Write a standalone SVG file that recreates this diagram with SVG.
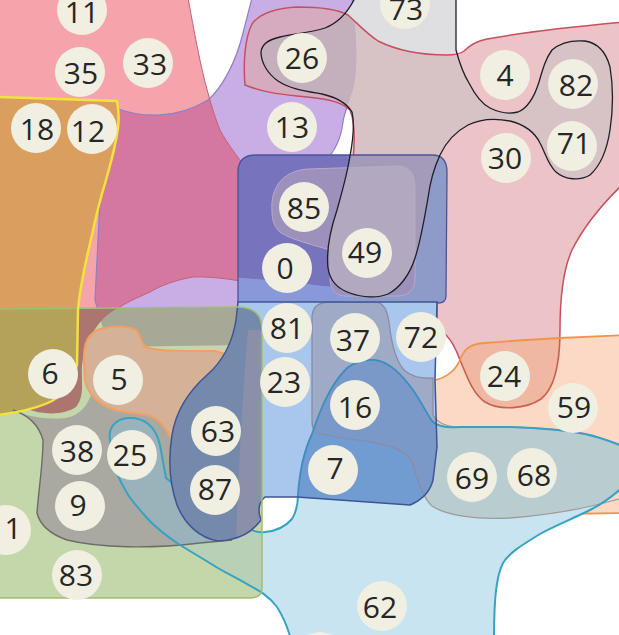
<svg xmlns="http://www.w3.org/2000/svg" width="619" height="635" viewBox="0 0 619 635">
<style>
.n circle{fill:#f0efe2}
.n text{font-family:"Open Sans","DejaVu Sans",sans-serif;font-size:30px;fill:#262626;text-anchor:middle}
</style>
<defs>
<path id="pLv" d="M113,107 C140,118 175,120 208,100 C222,88 236,62 243,33 L252,-2 L352,-2 C356,25 358,55 355,80 C352,98 345,108 343,122 C341,138 336,150 326,160 L330,300 L245,345 L108,347 L95,300 L100,200 Z"/>
<path id="pP" d="M-2,-2 L188,-2 C194,30 200,65 208,93 C212,108 216,120 220,130 C228,145 240,160 255,180 L258,284 C240,281 215,276 193,277 C175,280 160,286 150,292 C132,300 115,308 104,318 C92,330 84,347 82,365 C81,382 85,396 76,407 C63,416 38,416 15,404 L-2,397 Z"/>
<path id="pE" d="M355,-2 L456,-2 L456,50 C460,65 464,75 469,83 C475,95 482,104 490,108 C500,113 510,114 518,112 C528,108 534,98 539,82 C543,68 546,58 552,50 C560,43 572,40 585,41 C598,43 606,52 610,67 C613,85 613,110 610,130 C607,150 600,166 590,175 C580,181 565,180 556,172 C548,165 545,152 540,143 C535,133 526,125 510,121 C495,118 480,119 468,125 C455,132 446,142 440,155 C434,168 430,182 428,198 C424,220 421,240 415,258 C410,274 400,288 388,294 C378,298 363,298 350,293 C338,289 330,282 328,268 C326,250 331,228 337,210 C342,192 347,175 350,156 C353,140 355,125 352,112 C346,102 335,97 322,94 C305,91 290,89 278,81 C268,74 261,63 261,52 C262,44 268,40 280,37 C295,34 312,32 325,28 C338,23 348,12 355,-2 Z"/>
<path id="pD" d="M245,85 C243,62 245,38 252,24 C260,13 276,8 298,7 C320,7 337,9 348,15 C358,24 366,33 378,41 C396,50 420,55 447,55 C455,55 460,54 464,51 C470,45 477,41 487,39 C520,33 570,27 625,22 L625,182 C602,204 584,226 572,250 C562,272 560,300 560,330 C560,362 555,388 541,399 C526,409 500,411 485,402 C472,393 466,374 460,360 C456,349 452,341 446,335 L437,325 L437,303 L352,303 L353,160 C355,140 355,122 350,110 C340,100 320,98 297,96 C278,94 262,92 245,85 Z"/>
<path id="pOR" d="M430,381 C445,379 455,371 460,360 C464,350 468,344 485,343 C510,341 540,339 560,338 L625,335 L625,513 L560,514 L470,508 L430,495 Z"/>
<path id="pT" d="M110,440 C108,428 115,419 128,418 C142,417 155,424 160,445 L166,478 L205,510 L245,527 C252,531 258,533 265,532 C276,531 286,526 292,519 C297,511 298,504 298,494 C299,480 302,455 312,434 C320,410 330,385 347,368 C355,362 365,359 375,360 C390,362 402,375 413,390 C420,400 426,412 432,421 C438,427 448,428 460,427 L510,427 C540,428 565,430 585,434 C600,437 612,442 625,447 L625,485 C612,497 600,505 590,510 C570,520 552,527 540,534 C522,545 510,552 503,563 C496,577 494,600 494,640 L291,640 C288,628 284,618 277,607 C268,595 258,590 247,584 C235,577 222,571 213,565 C200,557 190,551 180,545 C165,535 155,527 147,518 C138,508 131,500 127,493 C122,484 118,478 116,470 C113,460 111,450 110,440 Z"/>
<path id="pG" d="M-2,309 L236,307 C255,307 262,315 262,330 L262,588 C262,595 258,598 250,598 L-2,598 Z"/>
<path id="pY" d="M-2,97 L117,101 C119,112 119,120 118,128 C115,150 110,165 106,180 C100,200 96,215 92,235 C86,260 80,285 78,310 L77,365 C72,382 63,395 52,401 C38,408 20,412 -2,415 Z"/>
<path id="pGR" d="M13,410 C25,416 45,420 65,418 C80,416 88,405 92,392 L110,385 L232,388 L232,540 L200,543 C150,549 100,548 67,540 C50,534 40,525 37,513 C38,495 43,465 43,440 C38,422 25,414 13,410 Z"/>
<path id="pO5" d="M84,362 C83,345 88,333 100,329 C112,326 128,325 136,330 C141,335 140,342 146,347 C155,351 175,351 215,351 L232,356 L232,435 L170,436 C166,428 160,420 150,416 C140,413 125,413 115,410 C100,405 88,395 85,380 Z"/>
<path id="pR69" d="M312,318 C312,307 318,302 330,302 L376,302 C384,303 387,310 389,322 C391,340 395,360 404,370 C412,377 422,379 433,378 L433,415 C438,424 448,427 460,427 L510,427 C540,428 565,430 585,434 C600,437 612,442 625,447 L625,497 C600,505 560,514 510,518 C475,520 445,515 432,506 C422,497 418,480 412,462 C405,450 390,445 370,442 C345,438 325,436 315,432 C312,428 312,424 312,418 Z"/>
<path id="pB1" d="M238,172 C238,160 244,155 256,155 L432,155 C442,155 447,161 447,172 L446,296 C446,301 443,303 438,303 L238,303 Z"/>
<path id="pB2" d="M238,302 L437,302 L435,380 L437,447 L433,480 C430,492 422,500 410,505 L297,497 L265,497 C258,503 258,512 261,520 C252,532 240,540 218,541 C200,538 185,525 177,505 C170,485 168,460 172,435 C176,410 190,390 207,375 C222,362 232,345 236,320 Z"/>
<path id="pR85" d="M272,212 C270,188 282,171 308,169 L398,166 C410,166 415,174 415,188 L415,278 C415,290 409,296 396,296 L346,296 C336,296 330,289 330,279 L330,250 C313,245 293,240 281,233 C275,228 272,221 272,212 Z"/>
<clipPath id="cLv"><use href="#pLv"/></clipPath>
<clipPath id="cE"><use href="#pE"/></clipPath>
<clipPath id="cD"><use href="#pD"/></clipPath>
<clipPath id="cOR"><use href="#pOR"/></clipPath>
<clipPath id="cT"><use href="#pT"/></clipPath>
<clipPath id="cG"><use href="#pG"/></clipPath>
<clipPath id="cB1"><use href="#pB1"/></clipPath>
<clipPath id="cB2"><use href="#pB2"/></clipPath>
</defs>
<rect width="619" height="635" fill="#ffffff"/>
<g id="regions-top">
<use href="#pLv" fill="#c9aee6"/>
<use href="#pP" fill="#f5a4ab"/>
<use href="#pP" fill="#d4789f" clip-path="url(#cLv)"/>
<use href="#pLv" fill="none" stroke="#8e7ec6" stroke-width="1.2"/>
<use href="#pP" fill="none" stroke="#c2607c" stroke-width="1"/>
<use href="#pE" fill="#dfdfe1"/>
<use href="#pD" fill="#ecc3c7"/>
<use href="#pD" fill="#d6aabf" clip-path="url(#cLv)"/>
<use href="#pE" fill="#d7c3c6" clip-path="url(#cD)"/>
<g clip-path="url(#cLv)"><use href="#pE" fill="#c4b0bd" clip-path="url(#cD)"/></g>
<use href="#pD" fill="none" stroke="#c4505f" stroke-width="1.5"/>
</g>
<g id="regions-right">
<use href="#pOR" fill="#fbd9c5"/>
<use href="#pD" fill="#f0b8a2" stroke="#c8604c" stroke-width="1.6" clip-path="url(#cOR)"/>
<use href="#pOR" fill="none" stroke="#f0944c" stroke-width="1.8"/>
<use href="#pT" fill="#c8e4f1"/>
</g>
<g id="regions-left">
<use href="#pY" fill="#da9f5f"/>
<use href="#pG" fill="#c3d7ab"/>
<use href="#pLv" fill="#a8a897" clip-path="url(#cG)"/>
<use href="#pP" fill="#ac756f" clip-path="url(#cG)"/>
<use href="#pY" fill="#b5a25a" clip-path="url(#cG)"/>
<use href="#pGR" fill="#a9a9a1"/>
<use href="#pO5" fill="#d5b197" stroke="#f2a062" stroke-width="2"/>
<use href="#pT" fill="#b7d0b6" clip-path="url(#cG)"/>
<use href="#pGR" fill="#9ab3bb" clip-path="url(#cT)"/>
<path d="M13,410 C25,414 38,422 43,440 C43,465 38,495 37,513 C40,525 50,534 67,540 C100,548 150,549 200,543 L232,540" fill="none" stroke="#6c6c6a" stroke-width="1.4"/>
<use href="#pR69" fill="#b9cdd1" clip-path="url(#cT)"/>
<use href="#pR69" fill="none" stroke="#a09a9c" stroke-width="1.3"/>
<use href="#pT" fill="none" stroke="#38a2c3" stroke-width="2"/>
</g>
<g id="region-blue-upper">
<use href="#pB1" fill="#8e9bc8"/>
<g clip-path="url(#cB1)">
<path d="M230,150 L353,150 L352,289 C320,286 280,281 230,277 Z" fill="#7873bd"/>
<path d="M230,277 C280,281 320,286 352,289 L352,310 L230,310 Z" fill="#8898d8"/>
<use href="#pR85" fill="#9d90ba"/>
<use href="#pE" fill="#a49bb8"/>
<use href="#pR85" fill="#b2a9c1" clip-path="url(#cE)"/>
<use href="#pR85" fill="none" stroke="#b7a9c8" stroke-width="1"/>
</g>
<use href="#pB1" fill="none" stroke="#4a5597" stroke-width="1.3"/>
</g>
<g id="region-blue-lower">
<use href="#pB2" fill="#a9c6ed"/>
<g clip-path="url(#cB2)">
<use href="#pR69" fill="#9eaac6"/>
<use href="#pT" fill="#719cd2"/>
<use href="#pR69" fill="#7a99c9" clip-path="url(#cT)"/>
<use href="#pR69" fill="none" stroke="#8a8ca6" stroke-width="1.3"/>
<use href="#pT" fill="none" stroke="#3a8fbf" stroke-width="1.8"/>
<use href="#pG" fill="#7489ab"/>
<path d="M248,330 L262,330 L262,545 L236,545 C238,480 242,400 248,330 Z" fill="#8a90a8" clip-path="url(#cG)"/>
</g>
<use href="#pB2" fill="none" stroke="#3d5593" stroke-width="1.5"/>
</g>
<g id="outlines">
<use href="#pG" fill="none" stroke="#a0bd72" stroke-width="1.5"/>
<use href="#pY" fill="none" stroke="#f2e23c" stroke-width="2.5"/>
<use href="#pE" fill="none" stroke="#1e1e28" stroke-width="1.3"/>
</g>
<g id="nodes">
<g class="n" id="n11"><circle cx="82" cy="10" r="25"/><text x="82" y="23">11</text></g>
<g class="n" id="n35"><circle cx="80" cy="72" r="25"/><text x="81" y="84">35</text></g>
<g class="n" id="n33"><circle cx="148" cy="63" r="25"/><text x="150" y="75">33</text></g>
<g class="n" id="n18"><circle cx="36" cy="128" r="25"/><text x="37" y="140">18</text></g>
<g class="n" id="n12"><circle cx="92" cy="129" r="25"/><text x="88" y="142">12</text></g>
<g class="n" id="n26"><circle cx="302" cy="58" r="25"/><text x="302" y="69">26</text></g>
<g class="n" id="n13"><circle cx="292" cy="127" r="25"/><text x="292" y="138">13</text></g>
<g class="n" id="n73"><circle cx="405" cy="4" r="25"/><text x="406" y="20">73</text></g>
<g class="n" id="n4"><circle cx="505" cy="75" r="25"/><text x="505" y="86">4</text></g>
<g class="n" id="n82"><circle cx="573" cy="84" r="25"/><text x="576" y="96">82</text></g>
<g class="n" id="n71"><circle cx="572" cy="146" r="25"/><text x="574" y="154">71</text></g>
<g class="n" id="n30"><circle cx="506" cy="158" r="25"/><text x="505" y="169">30</text></g>
<g class="n" id="n85"><circle cx="304" cy="207" r="25"/><text x="304" y="219">85</text></g>
<g class="n" id="n0"><circle cx="287" cy="268" r="25"/><text x="285" y="279">0</text></g>
<g class="n" id="n49"><circle cx="367" cy="253" r="25"/><text x="365" y="263">49</text></g>
<g class="n" id="n81"><circle cx="287" cy="328" r="25"/><text x="287" y="339">81</text></g>
<g class="n" id="n23"><circle cx="285" cy="382" r="25"/><text x="284" y="393">23</text></g>
<g class="n" id="n37"><circle cx="355" cy="338" r="25"/><text x="353" y="351">37</text></g>
<g class="n" id="n72"><circle cx="421" cy="337" r="25"/><text x="421" y="348">72</text></g>
<g class="n" id="n16"><circle cx="355" cy="405" r="25"/><text x="355" y="418">16</text></g>
<g class="n" id="n7"><circle cx="333" cy="470" r="25"/><text x="335" y="479">7</text></g>
<g class="n" id="n63"><circle cx="216" cy="431" r="25"/><text x="218" y="442">63</text></g>
<g class="n" id="n87"><circle cx="215" cy="490" r="25"/><text x="215" y="500">87</text></g>
<g class="n" id="n6"><circle cx="53" cy="374" r="25"/><text x="50" y="384">6</text></g>
<g class="n" id="n5"><circle cx="118" cy="380" r="25"/><text x="119" y="390">5</text></g>
<g class="n" id="n38"><circle cx="77" cy="450" r="25"/><text x="77" y="462">38</text></g>
<g class="n" id="n25"><circle cx="132" cy="455" r="25"/><text x="130" y="466">25</text></g>
<g class="n" id="n9"><circle cx="80" cy="506" r="25"/><text x="78" y="516">9</text></g>
<g class="n" id="n1"><circle cx="6" cy="530" r="25"/><text x="13" y="539">1</text></g>
<g class="n" id="n83"><circle cx="77" cy="575" r="25"/><text x="76" y="586">83</text></g>
<g class="n" id="n24"><circle cx="505" cy="376" r="25"/><text x="504" y="387">24</text></g>
<g class="n" id="n59"><circle cx="573" cy="408" r="25"/><text x="574" y="418">59</text></g>
<g class="n" id="n69"><circle cx="472" cy="477" r="25"/><text x="472" y="489">69</text></g>
<g class="n" id="n68"><circle cx="532" cy="473" r="25"/><text x="534" y="486">68</text></g>
<g class="n" id="n62"><circle cx="382" cy="606" r="25"/><text x="380" y="618">62</text></g>
<g class="n" id="n-bottom"><circle cx="320" cy="657" r="25"/></g>
</g>
</svg>
